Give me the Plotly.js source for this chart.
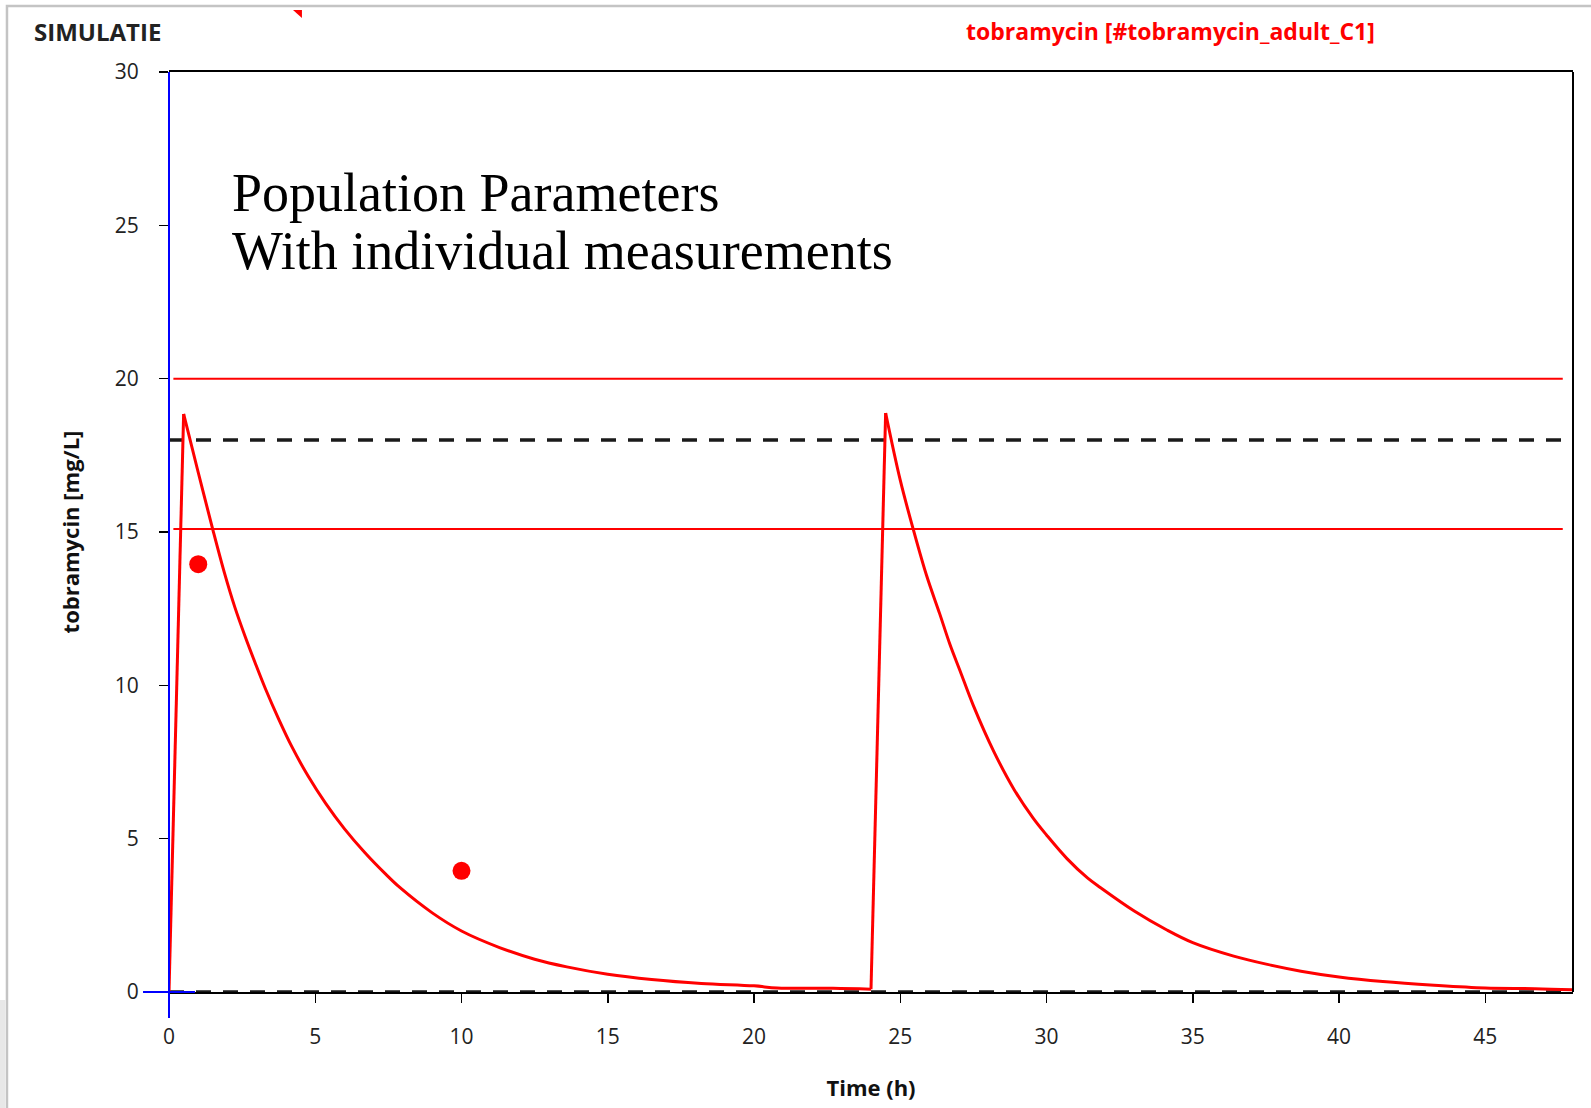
<!DOCTYPE html>
<html>
<head>
<meta charset="utf-8">
<script src="https://cdn.plot.ly/plotly-3.0.1.min.js"></script>
<style>html,body{margin:0;padding:0;background:#fff;}#chart{width:1591px;height:1108px;}</style>
</head>
<body>
<div id="chart"></div>
<script>
// Simulated tobramycin concentration (population parameters)
const timeH = [0, 0.5, 1.0, 1.5, 1.9, 2.25, 2.6, 2.95, 3.3, 3.75, 4.2, 4.75, 5.35, 6.0, 6.7, 7.4, 7.9, 9.0, 10.0, 11.3, 12.5, 13.6, 15.0, 16.5, 18.2, 20.0, 20.8, 22.7, 24.0,
  24.5, 25.0, 25.45, 25.9, 26.35, 26.7, 27.05, 27.5, 28.2, 28.9, 29.55, 30.0, 30.7, 31.4, 31.85, 33.0, 34.1, 35.0, 36.4, 37.55, 38.7, 40.0, 41.5, 43.25, 45.0, 46.7, 48.0];
const concMgL = [0, 18.85, 16.94, 15.07, 13.65, 12.55, 11.6, 10.72, 9.88, 8.9, 8.0, 7.05, 6.16, 5.32, 4.54, 3.85, 3.40, 2.58, 1.99, 1.45, 1.07, 0.82, 0.58, 0.41, 0.28, 0.20, 0.13, 0.12, 0.09,
  18.88, 16.69, 15.07, 13.58, 12.33, 11.33, 10.46, 9.34, 7.84, 6.59, 5.66, 5.12, 4.35, 3.72, 3.40, 2.64, 2.03, 1.61, 1.17, 0.90, 0.68, 0.49, 0.34, 0.22, 0.13, 0.11, 0.07];

// Individual measurements
const measTimeH = [1, 10];
const measConc = [13.95, 3.95];

// Target range (red) and reference levels (black dashed)
const targetLevels = [20, 15.1];
const targetSpan = [0.15, 47.65];
const refLevels = [18, 0];
const refSpan = [0, 48];

// Axes
const xRange = [0, 48];
const yRange = [0, 30];
const xTicks = [0, 5, 10, 15, 20, 25, 30, 35, 40, 45];
const yTicks = [0, 5, 10, 15, 20, 25, 30];

const traces = [];
refLevels.forEach(v => traces.push({
  x: refSpan, y: [v, v], type: 'scatter', mode: 'lines', hoverinfo: 'skip',
  line: {color: '#1a1a1a', width: 3.5, dash: '15px,12px'}, showlegend: false
}));
targetLevels.forEach(v => traces.push({
  x: targetSpan, y: [v, v], type: 'scatter', mode: 'lines', hoverinfo: 'skip',
  line: {color: '#ff0000', width: 2}, showlegend: false
}));

// Split the concentration series into infusion (rising, straight) and
// elimination (falling, smooth) pieces so the curve is drawn like the original.
let segStart = 0;
for (let i = 1; i <= timeH.length; i++) {
  const end = i === timeH.length;
  const rising = !end && concMgL[i] > concMgL[i - 1];
  const prevRising = concMgL[segStart + 1] > concMgL[segStart];
  if (end || rising !== prevRising) {
    const xs = timeH.slice(segStart, i);
    const ys = concMgL.slice(segStart, i);
    traces.push({
      x: xs, y: ys, type: 'scatter', mode: 'lines', name: 'tobramycin',
      line: {color: '#ff0000', width: 3, shape: prevRising ? 'linear' : 'spline', smoothing: 1},
      showlegend: false
    });
    segStart = i - 1;
  }
}

traces.push({
  x: measTimeH, y: measConc, type: 'scatter', mode: 'markers', name: 'measurements',
  marker: {color: '#ff0000', size: 18}, showlegend: false
});

const tickFont = {family: 'Open Sans, Noto Sans, sans-serif', size: 21, color: '#222'};

const layout = {
  width: 1591, height: 1108,
  margin: {l: 169, r: 18, t: 72, b: 116},
  paper_bgcolor: '#fff', plot_bgcolor: '#fff',
  showlegend: false,
  title: {
    text: 'tobramycin [#tobramycin_adult_C1]',
    font: {family: 'Open Sans, sans-serif', size: 23, color: '#ff0000', weight: 700},
    xref: 'paper', x: 0.7133, xanchor: 'center',
    yref: 'container', y: 0.9716, yanchor: 'middle'
  },
  xaxis: {
    range: xRange, tickvals: xTicks, ticktext: xTicks.map(String),
    showgrid: false, zeroline: false,
    showline: true, linecolor: '#000', linewidth: 2, mirror: true,
    ticks: 'outside', ticklen: 9, tickwidth: 1.5, tickcolor: '#000',
    tickfont: tickFont, ticklabelstandoff: 16,
    title: {text: 'Time (h)', font: {family: 'Open Sans, sans-serif', size: 22, color: '#111', weight: 700}, standoff: 31}
  },
  yaxis: {
    range: yRange, tickvals: yTicks, ticktext: yTicks.map(String),
    showgrid: false, zeroline: false,
    showline: false,
    ticks: 'outside', ticklen: 9, tickwidth: 1.5, tickcolor: '#000',
    tickfont: tickFont, ticklabelstandoff: 16,
    title: {text: 'tobramycin [mg/L]', font: {family: 'Open Sans, sans-serif', size: 22, color: '#111', weight: 700}, standoff: 29}
  },
  shapes: [
    // outer window frame
    {type: 'rect', xref: 'paper', yref: 'paper', x0: -0.1154, x1: 1.03, y0: -0.14, y1: 1.0717,
     line: {color: '#c4c4c4', width: 2.5}, fillcolor: 'rgba(0,0,0,0)', layer: 'below'},
    // resize grip strip at the lower left
    {type: 'rect', xref: 'paper', yref: 'paper', x0: -0.1204, x1: -0.1165, y0: -0.13, y1: -0.0087,
     line: {width: 0}, fillcolor: '#e8e8e8', layer: 'below'},
    // right border of the plot frame
    {type: 'line', xref: 'paper', yref: 'paper', x0: 1, x1: 1, y0: 0, y1: 1,
     line: {color: '#000', width: 2}},
    // blue cursor lines at origin
    {type: 'line', xref: 'paper', yref: 'paper', x0: 0, x1: 0, y0: -0.0283, y1: 1,
     line: {color: '#0000ff', width: 2}},
    {type: 'line', xref: 'paper', yref: 'paper', x0: -0.0185, x1: 0.0185, y0: 0, y1: 0,
     line: {color: '#0000ff', width: 2}},
    // small red comment marker
    {type: 'path', xref: 'paper', yref: 'paper',
     path: 'M 0.0883 1.0673 L 0.0947 1.0673 L 0.0947 1.0587 Z',
     fillcolor: '#ff0000', line: {width: 0}}
  ],
  annotations: [
    {text: 'SIMULATIE', xref: 'paper', yref: 'paper', x: -0.0975, y: 1.044,
     xanchor: 'left', yanchor: 'middle', showarrow: false,
     font: {family: 'Open Sans, sans-serif', size: 24, color: '#222', weight: 700}},
    {text: 'Population Parameters', xref: 'paper', yref: 'paper', x: 0.0435, y: 0.8685,
     xanchor: 'left', yanchor: 'middle', showarrow: false,
     font: {family: 'Liberation Serif, serif', size: 54, color: '#000'}},
    {text: 'With individual measurements', xref: 'paper', yref: 'paper', x: 0.0435, y: 0.8054,
     xanchor: 'left', yanchor: 'middle', showarrow: false,
     font: {family: 'Liberation Serif, serif', size: 54, color: '#000'}}
  ]
};

Plotly.newPlot('chart', traces, layout, {displayModeBar: false, staticPlot: true});
</script>
</body>
</html>
